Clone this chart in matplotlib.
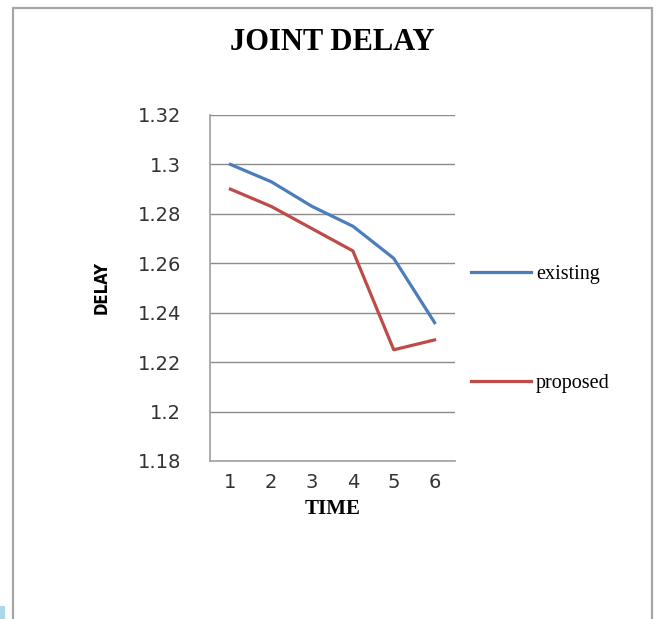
import matplotlib
matplotlib.use("Agg")
import matplotlib.pyplot as plt
from matplotlib.patches import Rectangle

# Data
time = [1, 2, 3, 4, 5, 6]
existing = [1.300, 1.293, 1.283, 1.275, 1.262, 1.236]
proposed = [1.290, 1.283, 1.274, 1.265, 1.225, 1.229]
y_ticks = [1.18, 1.2, 1.22, 1.24, 1.26, 1.28, 1.3, 1.32]
y_tick_labels = ["1.18", "1.2", "1.22", "1.24", "1.26", "1.28", "1.3", "1.32"]

fig = plt.figure(figsize=(6.57, 6.19), dpi=100)
ax = fig.add_axes([210 / 657, 1 - 461 / 619, 245 / 657, 346 / 619])

# Outer chart frame (bottom edge runs off the picture)
fig.add_artist(Rectangle((12.5 / 657, -0.05), 639.5 / 657, 1.05 - 7.5 / 619,
                         transform=fig.transFigure, fill=False,
                         edgecolor="#a6a6a6", linewidth=1.6))
fig.add_artist(Rectangle((0, 0), 5 / 657, 13 / 619, transform=fig.transFigure,
                         facecolor="#a9d9e6", edgecolor="none"))

ax.plot(time, existing, color="#4a7ebb", linewidth=2.3, label="existing")
ax.plot(time, proposed, color="#be4b48", linewidth=2.3, label="proposed")

ax.set_xlim(0.5, 6.5)
ax.set_ylim(1.18, 1.32)
ax.set_xticks(time)
ax.set_yticks(y_ticks)
ax.set_yticklabels(y_tick_labels)
ax.tick_params(axis="both", length=0, labelsize=14, labelcolor="#333333")
ax.tick_params(axis="y", pad=21)
ax.tick_params(axis="x", pad=9)

ax.grid(axis="y", color="#8c8c8c", linewidth=1.0)
ax.set_axisbelow(True)
for side in ["top", "right"]:
    ax.spines[side].set_visible(False)
ax.spines["left"].set_color("#a6a6a6")
ax.spines["bottom"].set_color("#a6a6a6")
ax.spines["left"].set_linewidth(1.3)
ax.spines["bottom"].set_linewidth(1.3)

ax.set_title("JOINT DELAY", family="Liberation Serif", fontweight="bold",
             fontsize=22, y=(461 - 42) / 346, va="center", pad=0)
ax.set_xlabel("TIME", family="Liberation Serif", fontweight="bold",
              fontsize=15, va="center")
ax.xaxis.set_label_coords(0.5, (461 - 508.7) / 346)
ax.set_ylabel("DELAY", family="DejaVu Sans", fontstretch="condensed",
              fontweight="bold", fontsize=12, va="center")
ax.yaxis.set_label_coords((102 - 210) / 245, 0.5)

ax.legend(loc="center left", bbox_to_anchor=(471 / 657, 1 - 329 / 619),
          bbox_transform=fig.transFigure, frameon=False, borderpad=0,
          borderaxespad=0, handlelength=3.0, handletextpad=0.22,
          labelspacing=4.5, prop={"family": "Liberation Serif", "size": 14.5})

fig.savefig("out.png", dpi=100)
